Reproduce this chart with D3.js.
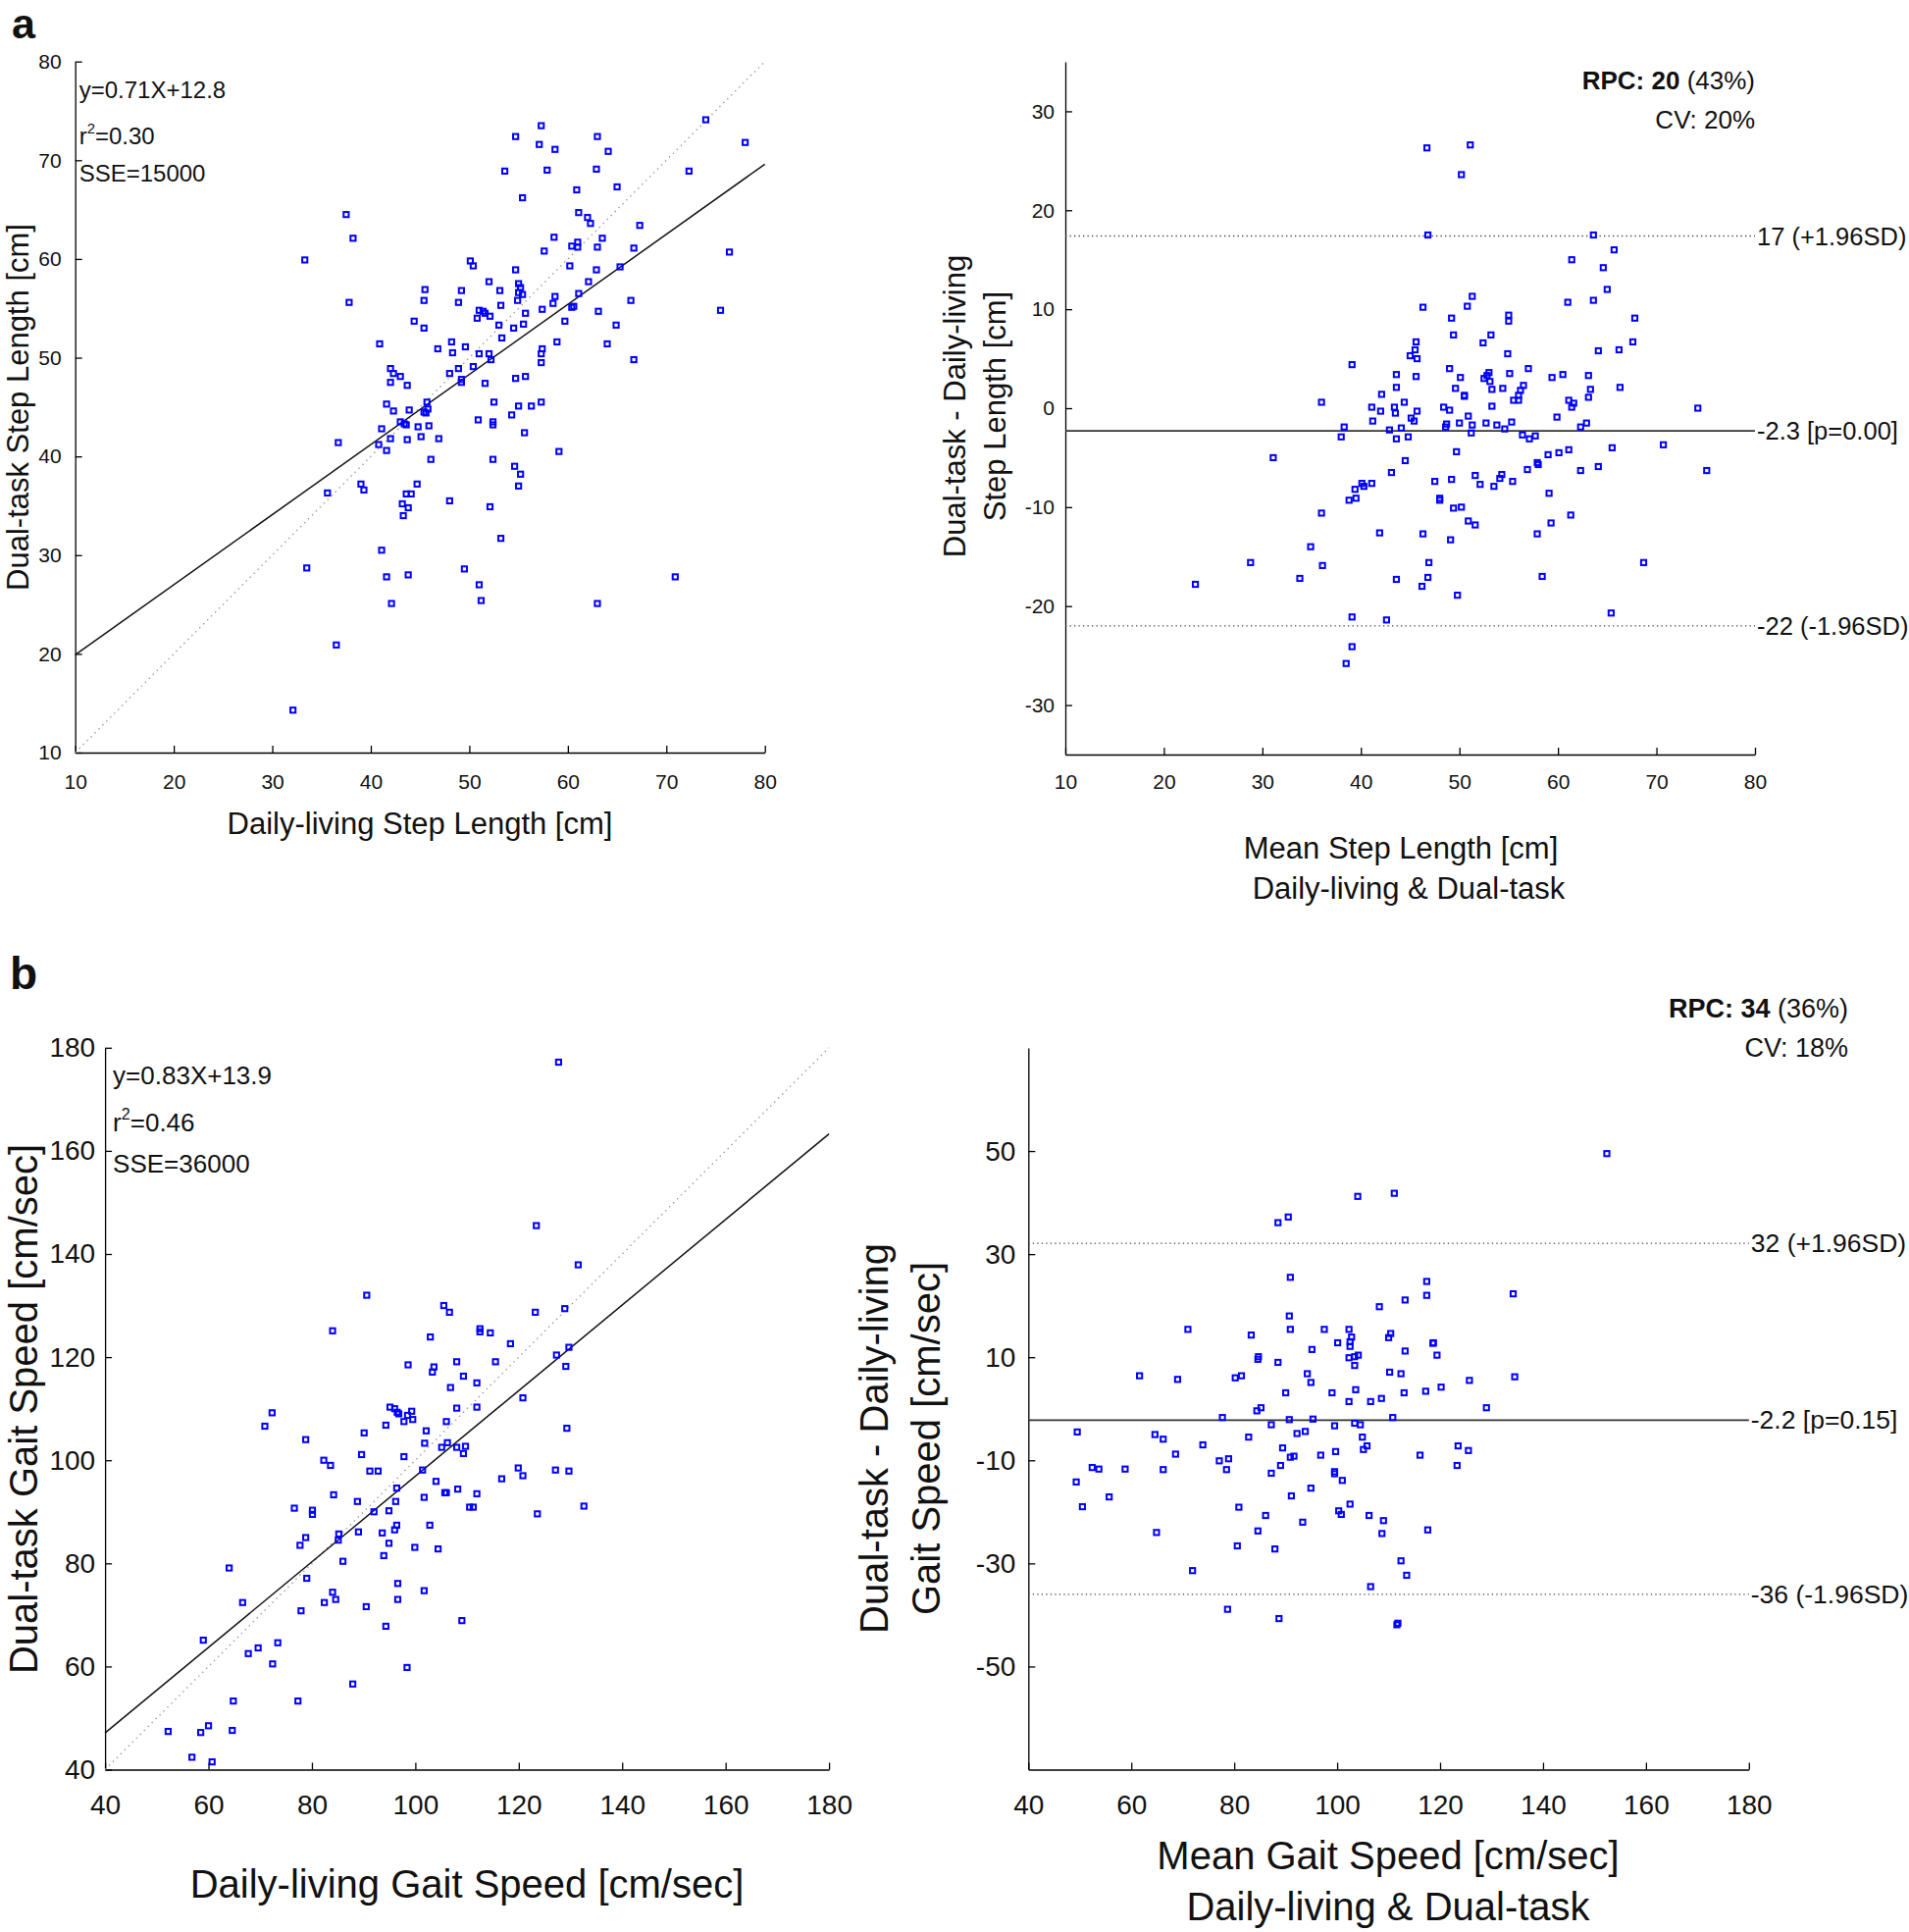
<!DOCTYPE html>
<html><head><meta charset="utf-8">
<script src="https://cdn.jsdelivr.net/npm/d3@7"></script>
<style>body{margin:0;background:#fff}</style>
</head><body>
<svg id="c" width="1946" height="1969" xmlns="http://www.w3.org/2000/svg"></svg>
<script>
// ---------------- DATA ----------------
// Panel a (left): Daily-living step length (x) vs Dual-task step length (y), cm
const stepScatter = [
[57.3,73.5],[54.7,72.4],[63.0,72.4],[74.0,74.1],[57.1,71.6],[58.7,71.1],[64.1,70.9],[78.0,71.8],[53.6,68.9],[57.9,69.0],[62.9,69.1],[72.3,68.9],[65.0,67.3],[60.9,67.0],[55.4,66.2],[37.5,64.5],[61.1,64.7],[62.0,64.2],[62.3,63.6],[38.2,62.1],[67.3,63.4],[58.6,62.2],[63.5,62.1],[61.0,61.7],[60.4,61.3],[61.0,61.2],[63.0,61.2],[57.6,60.8],[66.7,61.1],[76.4,60.7],[33.3,59.9],[50.1,59.8],[50.4,59.3],[60.2,59.3],[54.7,58.9],[62.9,58.9],[65.3,59.2],[52.0,57.7],[55.0,57.5],[55.2,57.1],[62.1,57.7],[45.5,56.9],[49.2,56.8],[53.1,56.8],[55.0,56.6],[55.4,56.4],[61.1,56.5],[37.8,55.6],[45.4,55.8],[48.9,55.6],[54.9,55.8],[58.7,56.2],[66.4,55.8],[58.5,55.5],[53.2,55.3],[51.0,54.8],[51.4,54.7],[51.6,54.5],[52.1,54.2],[50.8,54.0],[55.7,54.5],[57.4,54.9],[60.4,55.1],[60.6,55.2],[63.1,54.7],[75.5,54.8],[44.4,53.7],[45.4,53.0],[53.0,53.3],[54.5,53.0],[55.5,53.4],[59.7,53.7],[64.9,53.3],[40.9,51.4],[48.2,51.6],[46.8,50.9],[49.6,51.1],[48.3,50.5],[53.3,52.0],[58.9,51.6],[64.0,51.4],[51.0,50.4],[52.0,50.4],[52.2,49.8],[57.4,50.9],[57.3,50.4],[57.3,49.5],[66.7,49.8],[42.0,48.9],[42.3,48.4],[43.0,48.1],[42.0,47.5],[43.7,47.2],[48.9,48.9],[48.0,48.4],[50.4,49.1],[49.2,47.8],[49.2,47.5],[51.6,47.4],[54.7,47.9],[55.7,48.1],[41.6,45.3],[42.3,44.6],[43.9,44.7],[45.7,45.5],[45.8,44.8],[45.4,44.5],[45.6,44.4],[52.5,45.5],[55.0,45.1],[56.3,45.1],[57.3,45.5],[54.3,44.2],[43.0,43.5],[43.4,43.3],[43.6,43.2],[41.1,42.8],[44.8,43.0],[45.9,43.1],[50.9,43.7],[52.4,43.5],[52.4,43.2],[55.6,42.4],[36.7,41.4],[40.8,41.2],[42.0,41.8],[43.7,41.7],[45.1,42.0],[46.9,41.8],[41.6,40.6],[59.1,40.5],
[46.1,39.7],[52.4,39.7],[54.6,39.0],[55.2,38.2],[55.0,37.0],[39.0,37.2],[39.3,36.6],[35.6,36.3],[44.7,37.2],[43.6,36.2],[44.1,36.2],[43.2,35.2],[43.8,34.8],[43.3,34.0],[48.0,35.5],[52.1,34.9],[53.2,31.7],[41.1,30.5],[33.5,28.7],[41.6,27.8],[43.8,28.0],[49.5,28.6],[51.0,27.0],[51.2,25.4],[42.1,25.1],[63.0,25.1],[70.9,27.8],[36.5,20.9],[32.1,14.3]
];
// Panel a (right): mean step length (x) vs difference (y), cm
const stepBlandAltman = [
[46.7,26.3],[51.1,26.6],[50.2,23.6],[46.8,17.5],[63.6,17.5],[65.7,16.0],[61.4,15.0],[64.6,14.2],[65.0,12.0],[51.3,11.3],[63.6,10.9],[61.0,10.7],[46.3,10.2],[50.8,10.3],[49.2,9.1],[55.0,9.4],[55.0,8.8],[67.8,9.1],[49.4,7.4],[53.2,7.4],[52.4,6.6],[45.6,6.7],[45.5,5.9],[45.0,5.3],[45.7,5.0],[54.9,5.5],[64.1,5.8],[66.2,5.9],[67.6,6.7],[39.1,4.4],[49.0,4.0],[57.0,4.0],[43.6,3.4],[45.6,3.2],[50.1,3.1],[53.0,3.6],[52.5,3.0],[52.8,3.3],[53.1,2.7],[55.1,3.5],[59.4,3.1],[60.5,3.4],[63.1,3.3],[43.6,2.1],[42.1,1.4],[49.6,2.0],[53.3,1.9],[54.4,2.0],[56.5,2.3],[56.2,1.8],[56.0,1.3],[50.5,1.3],[50.5,1.2],[63.3,1.9],[66.3,2.1],[55.5,0.8],[56.0,0.8],[63.1,1.1],[61.1,0.8],[61.6,0.5],[61.4,0.1],[36.0,0.6],[41.1,0.1],[42.0,-0.3],[43.4,0.1],[43.5,-0.5],[44.4,0.6],[45.7,-0.3],[48.4,0.1],[49.0,-0.2],[53.3,0.2],[74.2,0.0],[41.2,-1.3],[45.1,-1.0],[45.4,-1.3],[50.9,-0.8],[48.7,-1.6],[50.0,-1.5],[51.3,-1.7],[52.7,-1.5],[53.8,-1.7],[55.3,-1.4],[59.9,-0.9],[62.9,-1.5],[38.3,-1.9],[42.9,-2.2],[44.1,-2.0],[48.6,-1.9],[54.6,-2.1],[62.3,-1.9],
[38.0,-2.9],[43.6,-3.1],[44.8,-2.9],[51.2,-2.5],[56.4,-2.7],[57.1,-3.1],[57.7,-2.8],[49.7,-4.4],[65.5,-4.0],[70.7,-3.7],[31.1,-5.0],[44.5,-5.3],[59.0,-4.7],[60.1,-4.5],[61.1,-4.2],[62.3,-6.3],[64.1,-5.9],[75.1,-6.3],[43.1,-6.5],[56.9,-6.2],[57.9,-5.5],[58.0,-5.7],[41.1,-7.6],[40.1,-7.6],[40.3,-7.9],[39.4,-8.2],[38.8,-9.3],[39.5,-9.1],[47.5,-7.4],[49.2,-7.2],[51.6,-6.8],[52.1,-7.7],[53.5,-7.9],[54.1,-7.1],[54.3,-6.7],[55.4,-7.4],[59.1,-8.6],[48.0,-9.1],[48.0,-9.3],[49.4,-10.1],[50.2,-10.0],[50.9,-11.4],[51.6,-11.8],[61.3,-10.8],[59.3,-11.6],[57.9,-12.7],[36.0,-10.6],[41.9,-12.6],[46.3,-12.7],[49.1,-13.3],[34.9,-14.0],[28.8,-15.6],[36.1,-15.9],[33.8,-17.2],[23.2,-17.8],[43.6,-17.3],[46.9,-15.6],[46.8,-17.1],[46.2,-18.0],[49.8,-18.9],[58.4,-17.0],[68.7,-15.6],[39.1,-21.1],[42.6,-21.4],[65.4,-20.7],[39.1,-24.1],[38.5,-25.8]
];
// Panel b (left): Daily-living gait speed (x) vs Dual-task gait speed (y), cm/sec
const speedScatter = [
[127.7,177.2],[123.4,145.5],[131.5,137.9],[90.6,132.0],[105.5,130.0],[106.6,128.7],[123.2,128.7],[128.9,129.4],[84.0,125.1],[112.5,125.5],[112.5,124.9],[114.5,124.7],[102.9,123.9],[118.4,122.6],[129.7,121.9],[127.3,120.4],[129.1,118.2],[98.6,118.5],[103.6,118.1],[103.3,117.1],[108.0,119.1],[115.5,119.1],[109.3,116.3],[111.9,115.0],[106.8,114.1],
[120.8,112.1],[95.1,110.3],[96.0,110.0],[96.5,109.3],[96.8,109.0],[99.3,109.5],[98.5,108.7],[99.5,107.9],[97.8,107.5],[108.0,110.1],[111.9,110.3],[106.0,107.5],[72.3,109.2],[70.9,106.6],[94.3,106.8],[90.1,105.3],[78.8,104.0],[102.1,105.7],[129.3,106.2],[101.8,103.3],[106.2,103.4],[105.1,102.5],[108.0,102.5],[109.7,102.7],[109.3,101.3],[89.6,101.1],[97.8,100.7],[82.3,100.0],[83.6,99.0],[91.2,97.9],[92.8,97.9],[101.4,98.1],[119.9,98.5],[127.1,98.1],[129.7,97.9],[120.8,97.0],[104.0,95.9],[116.7,96.4],[96.4,94.6],[105.7,93.7],[106.0,93.7],[108.2,94.4],[111.9,93.5],[84.2,93.3],[88.8,92.0],[96.2,92.0],[101.7,92.8],[76.6,90.7],[80.1,90.3],[80.1,89.5],[92.0,90.0],[94.9,90.2],[110.5,90.9],[111.2,90.9],[123.6,89.6],[132.6,91.1],[96.4,87.4],[96.0,86.5],[102.8,87.4],[85.2,85.7],[85.1,84.5],[89.0,86.1],[93.6,85.9],[78.8,85.0],[77.7,83.5],[94.9,83.9],[99.9,83.1],[104.4,82.8],[93.9,81.5],[86.0,80.4],[64.0,79.1],[79.0,77.1],[96.6,76.1],[101.7,74.7],[84.0,74.4],[84.6,73.0],[82.4,72.4],[66.6,72.4],[77.9,70.8],[90.5,71.6],[96.6,73.0],[109.0,68.9],[94.3,67.8],[59.0,65.1],[73.4,64.6],[69.6,63.6],[67.7,62.5],[72.4,60.5],[98.4,59.8],[87.9,56.6],[64.8,53.3],[77.3,53.3],[52.2,47.4],[58.5,47.2],[60.0,48.5],[64.6,47.6],[56.8,42.4],[60.7,41.5]
];
// Panel b (right): mean gait speed (x) vs difference (y), cm/sec
const speedBlandAltman = [
[152.4,49.5],[104.0,41.2],[111.1,41.8],[88.5,36.1],[90.5,37.2],[90.9,25.5],[117.4,24.7],[117.4,22.0],[113.2,21.1],[108.2,19.8],[134.2,22.3],[90.7,18.0],[90.9,15.4],[71.0,15.4],[83.3,14.3],[97.5,15.4],[102.3,15.4],[102.8,13.9],[102.5,13.0],[102.5,12.1],[100.1,12.8],[110.4,14.6],[110.0,13.8],[95.1,11.5],[118.6,12.7],[118.7,12.8],[113.2,11.2],[119.4,10.4],[84.7,10.1],[84.6,9.6],[88.5,9.0],[102.3,9.9],[103.4,10.1],[104.1,10.4],[103.4,8.4],[61.6,6.4],[69.0,5.7],[80.2,6.0],[81.4,6.4],[94.2,6.8],[94.9,5.1],[110.2,7.1],[112.4,6.8],[125.7,5.5],[134.5,6.2],[90.0,3.1],[99.0,3.1],[103.6,3.7],[113.0,3.1],[117.2,3.4],[120.2,4.2],[102.3,1.4],[106.5,1.4],[108.6,2.0],[129.0,0.2],[84.4,-0.4],[85.2,0.2],[77.7,-1.7],[90.7,-2.1],[95.3,-2.0],[110.8,-1.7],
[87.2,-3.1],[99.5,-3.3],[103.4,-2.8],[104.5,-3.1],[49.5,-4.5],[64.6,-5.0],[66.2,-5.9],[68.6,-8.8],[73.9,-7.0],[82.8,-5.5],[92.2,-4.8],[93.8,-4.4],[104.9,-5.5],[89.4,-7.6],[90.9,-9.4],[91.6,-9.2],[96.8,-9.0],[99.7,-8.3],[105.1,-7.9],[105.8,-7.2],[116.1,-9.0],[123.5,-7.2],[125.5,-8.1],[123.3,-11.0],[52.4,-11.4],[53.7,-11.7],[58.8,-11.7],[66.2,-11.8],[77.1,-10.1],[78.9,-9.7],[78.5,-11.8],[89.0,-11.0],[87.2,-12.5],[99.5,-12.2],[99.5,-12.6],[101.0,-13.9],[94.9,-15.4],[91.1,-16.9],[55.7,-17.1],[50.5,-19.0],[49.3,-14.2],[80.9,-19.1],[86.1,-20.7],[93.3,-22.0],[100.3,-19.8],[100.8,-20.5],[102.5,-18.5],[106.2,-20.7],[109.0,-21.7],[108.7,-24.2],[117.6,-23.5],[64.9,-24.0],[84.6,-23.7],[80.6,-26.6],[87.9,-27.2],[71.9,-31.4],[112.4,-29.5],[113.5,-32.3],[106.5,-34.5],[78.7,-38.9],[88.7,-40.7],[111.6,-41.9],[111.8,-41.6]
];

// Fits: [slope, intercept]
const stepFit = [0.71, 12.8];
const speedFit = [0.83, 13.9];
const stepFitText = ["y=0.71X+12.8", "0.30", "SSE=15000"];
const speedFitText = ["y=0.83X+13.9", "0.46", "SSE=36000"];

// Bland-Altman lines: [upper LoA, mean bias, lower LoA]
const stepLimits = [17.4, -2.3, -22.0];
const stepLimitLabels = ["17 (+1.96SD)", "-2.3 [p=0.00]", "-22 (-1.96SD)"];
const speedLimits = [32.1, -2.2, -36.0];
const speedLimitLabels = ["32 (+1.96SD)", "-2.2 [p=0.15]", "-36 (-1.96SD)"];
const stepRPC = ["RPC: ", "20", " (43%)", "CV: 20%"];
const speedRPC = ["RPC: ", "34", " (36%)", "CV: 18%"];

// Ticks
const stepTicks = [10, 20, 30, 40, 50, 60, 70, 80];
const stepDiffTicks = [-30, -20, -10, 0, 10, 20, 30];
const speedTicks = [40, 60, 80, 100, 120, 140, 160, 180];
const speedDiffTicks = [-50, -30, -10, 10, 30, 50];

// ---------------- DRAWING ----------------
const svg = d3.select("#c");
const FONT = "'Liberation Sans', Arial, sans-serif";
svg.append("rect").attr("width", 1946).attr("height", 1969).attr("fill", "#fff");

function makePanel(cfg) {
  const x = d3.scaleLinear().domain(cfg.xDomain).range([cfg.left, cfg.right]);
  const y = d3.scaleLinear().domain(cfg.yDomain).range([cfg.bottom, cfg.top]);
  const fmt = d => String(d);
  const ax = svg.append("g").attr("transform", `translate(0,${cfg.bottom})`)
    .call(d3.axisBottom(x).tickValues(cfg.xTicks).tickFormat(fmt)
      .tickSizeInner(-7).tickSizeOuter(0).tickPadding(cfg.padX));
  const ay = svg.append("g").attr("transform", `translate(${cfg.left},0)`)
    .call(d3.axisLeft(y).tickValues(cfg.yTicks).tickFormat(fmt)
      .tickSizeInner(-7).tickSizeOuter(0).tickPadding(cfg.padY));
  [ax, ay].forEach(g => {
    g.attr("font-family", FONT).attr("font-size", cfg.tickFont);
    g.selectAll("path,line").attr("stroke", "#000").attr("stroke-width", 1.3);
    g.selectAll("text").attr("fill", "#111");
  });
  return {x, y};
}

function drawPoints(sc, data) {
  svg.append("g").selectAll("rect").data(data).join("rect")
    .attr("x", d => sc.x(d[0]) - 2.6).attr("y", d => sc.y(d[1]) - 2.6)
    .attr("width", 5.2).attr("height", 5.2)
    .attr("fill", "none").attr("stroke", "#0000ff").attr("stroke-width", 2);
}

function text(x, y, s, size, opts = {}) {
  const t = svg.append("text").attr("x", x).attr("y", y).text(s)
    .attr("font-family", FONT).attr("font-size", size).attr("fill", "#111");
  if (opts.anchor) t.attr("text-anchor", opts.anchor);
  if (opts.weight) t.attr("font-weight", opts.weight);
  if (opts.rotate) t.attr("transform", `rotate(-90,${x},${y})`);
  if (opts.baseline) t.attr("dominant-baseline", opts.baseline);
  return t;
}

function scatterPanel(cfg, data, fit, fitText) {
  const sc = makePanel(cfg);
  const [d0, d1] = cfg.xDomain;
  // identity line
  svg.append("line").attr("x1", sc.x(d0)).attr("y1", sc.y(d0)).attr("x2", sc.x(d1)).attr("y2", sc.y(d1))
    .attr("stroke", "#9a9a9a").attr("stroke-width", 1.4).attr("stroke-dasharray", "1.4,4.2");
  // regression line
  svg.append("line").attr("x1", sc.x(d0)).attr("y1", sc.y(fit[0] * d0 + fit[1]))
    .attr("x2", sc.x(d1)).attr("y2", sc.y(fit[0] * d1 + fit[1]))
    .attr("stroke", "#111").attr("stroke-width", 1.5);
  drawPoints(sc, data);
  const tx = cfg.left + cfg.statDx;
  text(tx, cfg.top + cfg.statY[0], fitText[0], cfg.statFont);
  const r = text(tx, cfg.top + cfg.statY[1], "r", cfg.statFont);
  r.append("tspan").attr("dy", -cfg.statFont * 0.45).attr("font-size", cfg.statFont * 0.62).text("2");
  r.append("tspan").attr("dy", cfg.statFont * 0.45).text("=" + fitText[1]);
  text(tx, cfg.top + cfg.statY[2], fitText[2], cfg.statFont);
  return sc;
}

function baPanel(cfg, data, limits, labels, rpc) {
  const sc = makePanel(cfg);
  const [d0, d1] = cfg.xDomain;
  limits.forEach((v, i) => {
    const l = svg.append("line").attr("x1", sc.x(d0)).attr("x2", sc.x(d1))
      .attr("y1", sc.y(v)).attr("y2", sc.y(v));
    if (i === 1) l.attr("stroke", "#333").attr("stroke-width", 1.8);
    else l.attr("stroke", "#444").attr("stroke-width", 1.3).attr("stroke-dasharray", "1.3,3.2");
    text(sc.x(d1) + 2, sc.y(v), labels[i], cfg.labFont, {baseline: "central"});
  });
  drawPoints(sc, data);
  const t = text(cfg.rpcRight, cfg.rpcY[0], rpc[0], cfg.rpcFont, {anchor: "end", weight: "bold"});
  t.append("tspan").text(rpc[1]);
  t.append("tspan").attr("font-weight", "normal").text(rpc[2]);
  text(cfg.rpcRight, cfg.rpcY[1], rpc[3], cfg.rpcFont, {anchor: "end"});
  return sc;
}

// Panel labels
text(12, 39, "a", 43, {weight: "bold"});
text(10, 1008, "b", 46, {weight: "bold"});

// a-left
scatterPanel({left: 76.7, right: 779.7, top: 62.7, bottom: 767, xDomain: [10, 80], yDomain: [10, 80],
  xTicks: stepTicks, yTicks: stepTicks, padX: 22, padY: 14, tickFont: 21,
  statDx: 4, statY: [37, 84, 122], statFont: 24}, stepScatter, stepFit, stepFitText);
text(428, 850, "Daily-living Step Length [cm]", 31, {anchor: "middle"});
text(29, 415, "Dual-task Step Length [cm]", 31, {anchor: "middle", rotate: true});

// a-right
baPanel({left: 1086, right: 1789, top: 63, bottom: 769, xDomain: [10, 80], yDomain: [-35, 35],
  xTicks: stepTicks, yTicks: stepDiffTicks, padX: 20, padY: 11, tickFont: 21, labFont: 25.5,
  rpcFont: 26, rpcRight: 1789, rpcY: [91, 131]}, stepBlandAltman, stepLimits, stepLimitLabels, stepRPC);
text(1428, 875, "Mean Step Length [cm]", 31, {anchor: "middle"});
text(1436, 916, "Daily-living & Dual-task", 31, {anchor: "middle"});
text(984, 414, "Dual-task - Daily-living", 31, {anchor: "middle", rotate: true});
text(1025, 414, "Step Length [cm]", 31, {anchor: "middle", rotate: true});

// b-left
scatterPanel({left: 107.1, right: 845.1, top: 1067.8, bottom: 1803.5, xDomain: [40, 180], yDomain: [40, 180],
  xTicks: speedTicks, yTicks: speedTicks, padX: 26, padY: 10, tickFont: 28,
  statDx: 8, statY: [37, 85, 127], statFont: 26}, speedScatter, speedFit, speedFitText);
text(476, 1934, "Daily-living Gait Speed [cm/sec]", 40, {anchor: "middle"});
text(37.5, 1436, "Dual-task Gait Speed [cm/sec]", 40, {anchor: "middle", rotate: true});

// b-right
baPanel({left: 1048.3, right: 1782.8, top: 1068, bottom: 1803.5, xDomain: [40, 180], yDomain: [-70, 70],
  xTicks: speedTicks, yTicks: speedDiffTicks, padX: 26, padY: 13, tickFont: 28, labFont: 26.5,
  rpcFont: 27, rpcRight: 1884, rpcY: [1037, 1077]}, speedBlandAltman, speedLimits, speedLimitLabels, speedRPC);
text(1415, 1905, "Mean Gait Speed [cm/sec]", 40, {anchor: "middle"});
text(1415, 1957, "Daily-living & Dual-task", 40, {anchor: "middle"});
text(905, 1466, "Dual-task - Daily-living", 40, {anchor: "middle", rotate: true});
text(958, 1466, "Gait Speed [cm/sec]", 40, {anchor: "middle", rotate: true});
</script>
</body></html>
